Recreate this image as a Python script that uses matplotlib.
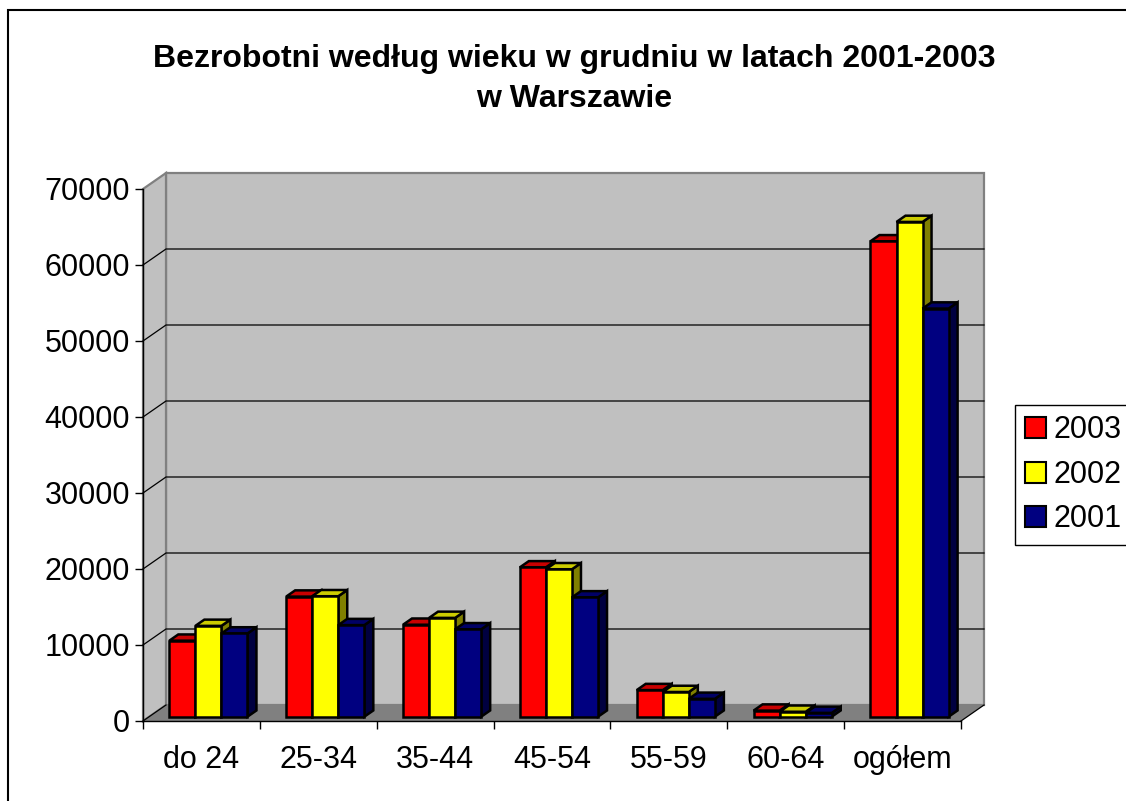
import matplotlib
matplotlib.use("Agg")
import matplotlib.pyplot as plt
from matplotlib.patches import Polygon, Rectangle, Patch

plt.rcParams['font.family'] = ['Liberation Sans', 'DejaVu Sans']

# ---------------- data ----------------
categories = ['do 24', '25-34', '35-44', '45-54', '55-59', '60-64', 'ogółem']
series_names = ['2003', '2002', '2001']
values_2003 = [10000, 15800, 12100, 19650, 3500, 800, 62550]
values_2002 = [11950, 15850, 13000, 19400, 3250, 650, 65100]
values_2001 = [10950, 12050, 11500, 15700, 2350, 500, 53700]
y_ticks = [0, 10000, 20000, 30000, 40000, 50000, 60000, 70000]
title_lines = ['Bezrobotni według wieku w grudniu w latach 2001-2003', 'w Warszawie']

series_values = [values_2003, values_2002, values_2001]
front_colors = ['#FF0000', '#FFFF00', '#000080']
top_colors = ['#C80000', '#CCCC00', '#000066']
side_colors = ['#800000', '#808000', '#000040']

# ---------------- figure ----------------
W, H = 1126, 801
fig = plt.figure(figsize=(W / 100, H / 100), dpi=100)
fig.patch.set_facecolor('white')

# outer chart border
fig.patches.append(Rectangle((8 / W, -0.05), 1.2, 1 - 10 / H + 0.05,
                             transform=fig.transFigure, fill=False,
                             edgecolor='black', linewidth=1.5))

ax_l, ax_r, ax_t, ax_b = 143, 961, 189, 721
ax = fig.add_axes([ax_l / W, (H - ax_b) / H, (ax_r - ax_l) / W, (ax_b - ax_t) / H])
ncat = len(categories)
ymax = y_ticks[-1]
ax.set_xlim(0, ncat)
ax.set_ylim(0, ymax)
ax.set_facecolor('none')

# pixel -> data conversion for the depth (oblique projection)
ux = ncat / (ax_r - ax_l)
uy = ymax / (ax_b - ax_t)
DX = 23 * ux
DY = 16 * uy

# walls and floor
ax.add_patch(Rectangle((DX, DY), ncat, ymax, facecolor='#C0C0C0',
                       edgecolor='#808080', linewidth=1.6, clip_on=False, zorder=0.1))
ax.add_patch(Polygon([(0, 0), (0, ymax), (DX, ymax + DY), (DX, DY)], closed=True,
                     facecolor='#C0C0C0', edgecolor='#808080', linewidth=1.6,
                     clip_on=False, zorder=0.2))
ax.add_patch(Polygon([(0, 0), (ncat, 0), (ncat + DX, DY), (DX, DY)], closed=True,
                     facecolor='#808080', edgecolor='none', clip_on=False, zorder=0.3))
ax.plot([ncat, ncat + DX], [0, DY], color='black', lw=0.9, clip_on=False, zorder=0.4)
ax.plot([0, DX], [0, DY], color='black', lw=0.9, clip_on=False, zorder=0.4)

# gridlines on side and back wall
for v in y_ticks[1:-1]:
    ax.plot([0, DX, ncat + DX], [v, v + DY, v + DY], color='black', lw=0.9,
            clip_on=False, zorder=0.4)

# bars
w = 0.223
start = 0.172
d0, d1 = 0.27, 0.66
dd = d1 - d0
y0 = d0 * DY
lw_bar = 1.8
for i, vals in enumerate(series_values):
    xs = [j + start + i * w + d0 * DX for j in range(ncat)]
    bars = ax.bar(xs, vals, width=w, bottom=y0, align='edge',
                  color=front_colors[i], edgecolor='black', linewidth=lw_bar,
                  clip_on=False)
    for j, (b, x0, v) in enumerate(zip(bars.patches, xs, vals)):
        z = 2 + (j * 3 + i) * 0.01
        b.set_zorder(z + 0.005)
        b.set_joinstyle('miter')
        top = y0 + v
        side = Polygon([(x0 + w, y0), (x0 + w + dd * DX, y0 + dd * DY),
                        (x0 + w + dd * DX, top + dd * DY), (x0 + w, top)], closed=True,
                       facecolor=side_colors[i], edgecolor='black', linewidth=lw_bar,
                       joinstyle='miter', clip_on=False, zorder=z)
        topf = Polygon([(x0, top), (x0 + w, top), (x0 + w + dd * DX, top + dd * DY),
                        (x0 + dd * DX, top + dd * DY)], closed=True,
                       facecolor=top_colors[i], edgecolor='black', linewidth=lw_bar,
                       joinstyle='miter', clip_on=False, zorder=z)
        ax.add_patch(side)
        ax.add_patch(topf)

# axes lines / ticks
for s in ['top', 'right']:
    ax.spines[s].set_visible(False)
for s in ['left', 'bottom']:
    ax.spines[s].set_color('black')
    ax.spines[s].set_linewidth(1.0)
    ax.spines[s].set_zorder(5)

ax.set_yticks(y_ticks)
ax.set_yticklabels([str(v) for v in y_ticks])
ax.tick_params(axis='y', length=5.8, width=1.0, pad=3.6, labelsize=22, direction='out')

ax.set_xticks(range(ncat + 1))
ax.set_xticklabels([''] * (ncat + 1))
ax.set_xticks([j + 0.5 for j in range(ncat)], minor=True)
ax.set_xticklabels(categories, minor=True)
ax.tick_params(axis='x', which='major', length=5.8, width=1.0, direction='out')
ax.tick_params(axis='x', which='minor', length=0, pad=17.5, labelsize=22)

# title
fig.text(574 / W, 1 - 59 / H, title_lines[0], ha='center', va='center',
         fontsize=23, fontweight='bold')
fig.text(574 / W, 1 - 99 / H, title_lines[1], ha='center', va='center',
         fontsize=23, fontweight='bold')

# legend
handles = [Patch(facecolor=c, edgecolor='black', linewidth=1.5) for c in front_colors]
leg = fig.legend(handles, series_names, loc='upper left',
                 bbox_to_anchor=(1015 / W, 1 - 405 / H), fontsize=22,
                 frameon=True, fancybox=False, edgecolor='black', framealpha=1,
                 borderaxespad=0, borderpad=0.33, labelspacing=0.48,
                 handlelength=0.68, handleheight=0.68, handletextpad=0.25)
leg.get_frame().set_linewidth(1.0)

fig.savefig('out.png', dpi=100)
